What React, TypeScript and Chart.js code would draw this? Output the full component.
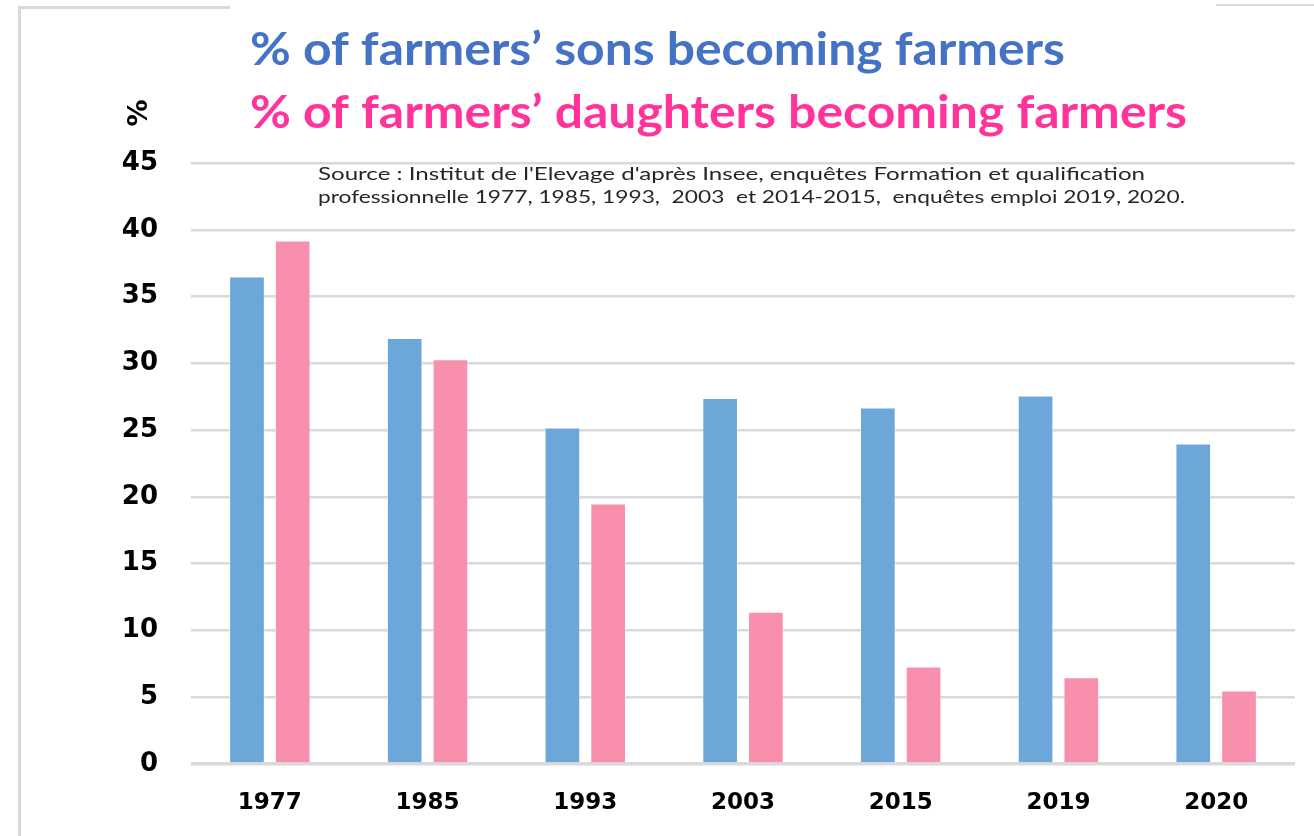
import React, { useEffect, useRef } from "react";
import { Chart, registerables } from "chart.js";

Chart.register(...registerables);

const years = ["1977", "1985", "1993", "2003", "2015", "2019", "2020"];
const sons = [36.5, 31.9, 25.2, 27.4, 26.7, 27.6, 24.0];
const daughters = [39.2, 30.3, 19.5, 11.4, 7.3, 6.5, 5.5];

const titleSons = "% of farmers\u2019 sons becoming farmers";
const titleDaughters = "% of farmers\u2019 daughters becoming farmers";
const sourceLine1 = "Source : Institut de l'Elevage d'apr\u00e8s Insee, enqu\u00eates Formation et qualification";
const sourceLine2 = "professionnelle 1977, 1985, 1993,  2003  et 2014-2015,  enqu\u00eates emploi 2019, 2020.";
const yAxisTitle = "%";

const BLUE = "#6DA6D9";
const PINK = "#F78FAD";
const GRID = "#d9d9d9";

function fitText(ctx: CanvasRenderingContext2D, text: string, x: number, y: number, width: number, font: string, color: string) {
  ctx.save();
  ctx.font = font;
  ctx.fillStyle = color;
  ctx.textBaseline = "alphabetic";
  ctx.textAlign = "left";
  const w = ctx.measureText(text).width;
  ctx.translate(x, y);
  ctx.scale(width / w, 1);
  ctx.fillText(text, 0, 0);
  ctx.restore();
}

const decorPlugin = {
  id: "decor",
  beforeDraw(chart: any) {
    const ctx = chart.ctx as CanvasRenderingContext2D;
    ctx.save();
    ctx.fillStyle = "#ffffff";
    ctx.fillRect(0, 0, chart.width, chart.height);
    ctx.fillStyle = GRID;
    ctx.fillRect(18, 6, 212, 3);
    ctx.fillRect(1216, 4, 98, 2);
    ctx.fillRect(18, 6, 3, chart.height - 6);
    ctx.restore();
  },
  afterDraw(chart: any) {
    const ctx = chart.ctx as CanvasRenderingContext2D;
    fitText(ctx, titleSons, 250, 65, 815, "bold 46px Lato", "#4472C4");
    fitText(ctx, titleDaughters, 250, 128, 937, "bold 46px Lato", "#FF3399");
    fitText(ctx, sourceLine1, 318, 180, 827, "17px Lato", "#262626");
    fitText(ctx, sourceLine2, 318, 203, 867, "17px Lato", "#262626");
    ctx.save();
    ctx.translate(139.5, 113);
    ctx.rotate(-Math.PI / 2);
    ctx.font = "bold 27px 'DejaVu Sans'";
    ctx.fillStyle = "#000";
    ctx.textAlign = "center";
    ctx.textBaseline = "middle";
    ctx.fillText(yAxisTitle, 0, 0);
    ctx.restore();
  },
};

export default function App() {
  const ref = useRef<HTMLCanvasElement | null>(null);
  useEffect(() => {
    if (!ref.current) return;
    const chart = new Chart(ref.current, {
      type: "bar",
      data: {
        labels: years,
        datasets: [
          {
            label: "Sons",
            data: sons,
            backgroundColor: BLUE,
            borderColor: "rgba(255,255,255,0.5)",
            borderWidth: 1,
            categoryPercentage: 0.58,
            barPercentage: 0.78,
          },
          {
            label: "Daughters",
            data: daughters,
            backgroundColor: PINK,
            borderColor: "rgba(255,255,255,0.5)",
            borderWidth: 1,
            categoryPercentage: 0.58,
            barPercentage: 0.78,
          },
        ],
      },
      options: {
        animation: false,
        responsive: false,
        maintainAspectRatio: false,
        layout: { padding: { left: 0, right: 19, top: 163, bottom: 0 } },
        plugins: {
          legend: { display: false },
          title: { display: false },
          tooltip: { enabled: false },
        },
        scales: {
          x: {
            grid: { display: false, drawTicks: false },
            border: { display: false },
            ticks: {
              color: "#000",
              font: { family: "'DejaVu Sans'", weight: "bold", size: 23 },
              padding: 25,
            },
            afterFit: (scale: any) => {
              scale.height = 72;
            },
          },
          y: {
            min: 0,
            max: 45,
            ticks: {
              stepSize: 5,
              color: "#000",
              font: { family: "'DejaVu Sans'", weight: "bold", size: 26 },
              padding: 33,
            },
            grid: {
              color: GRID,
              lineWidth: (c: any) => (c.tick && c.tick.value === 0 ? 3.5 : 2.5),
              drawTicks: false,
            },
            border: { display: false },
            afterFit: (scale: any) => {
              scale.width = 191;
            },
          },
        },
      },
      plugins: [decorPlugin],
    });
    return () => chart.destroy();
  }, []);
  return (
    <div style={{ position: "fixed", left: 0, top: 0, width: 1314, height: 836, background: "#fff" }}>
      <canvas ref={ref} width={1314} height={836} style={{ display: "block", width: 1314, height: 836 }} />
    </div>
  );
}
